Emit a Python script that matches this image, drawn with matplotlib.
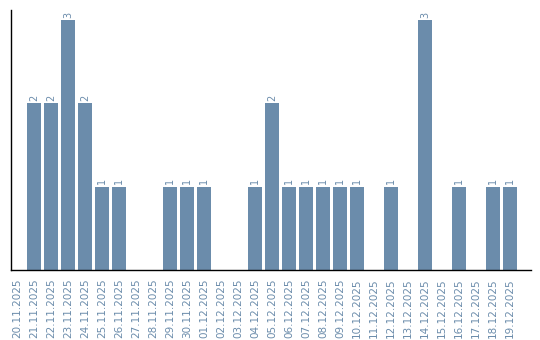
import matplotlib
matplotlib.use("Agg")
import matplotlib.pyplot as plt

dates = ["20.11.2025","21.11.2025","22.11.2025","23.11.2025","24.11.2025","25.11.2025",
         "26.11.2025","27.11.2025","28.11.2025","29.11.2025","30.11.2025","01.12.2025",
         "02.12.2025","03.12.2025","04.12.2025","05.12.2025","06.12.2025","07.12.2025",
         "08.12.2025","09.12.2025","10.12.2025","11.12.2025","12.12.2025","13.12.2025",
         "14.12.2025","15.12.2025","16.12.2025","17.12.2025","18.12.2025","19.12.2025"]
counts = [0,2,2,3,2,1,1,0,0,1,1,1,0,0,1,2,1,1,1,1,1,0,1,0,3,0,1,0,1,1]

bar_color = "#6b8cab"
text_color = "#6b8cab"

fig = plt.figure(figsize=(5.4, 3.4), dpi=100)
ax = fig.add_axes([11/540, 1 - 270/340, (531-11)/540, (270-10)/340])
x = list(range(len(dates)))
bars = ax.bar(x, counts, width=0.82, color=bar_color)
for xi, c in zip(x, counts):
    if c > 0:
        ax.text(xi, c + 0.03, str(c), rotation=90, ha="center", va="bottom",
                fontsize=7, color=text_color)
ax.set_xlim(-0.35, 30.24)
ax.set_ylim(0, 3.12)
ax.set_xticks(x)
ax.set_xticklabels(dates, rotation=90, fontsize=7.5, color=text_color)
ax.tick_params(axis="x", length=0, pad=6)
ax.set_yticks([])
ax.spines["top"].set_visible(False)
ax.spines["right"].set_visible(False)
ax.spines["left"].set_linewidth(1.0)
ax.spines["bottom"].set_linewidth(1.0)
fig.savefig("out.png", dpi=100)
